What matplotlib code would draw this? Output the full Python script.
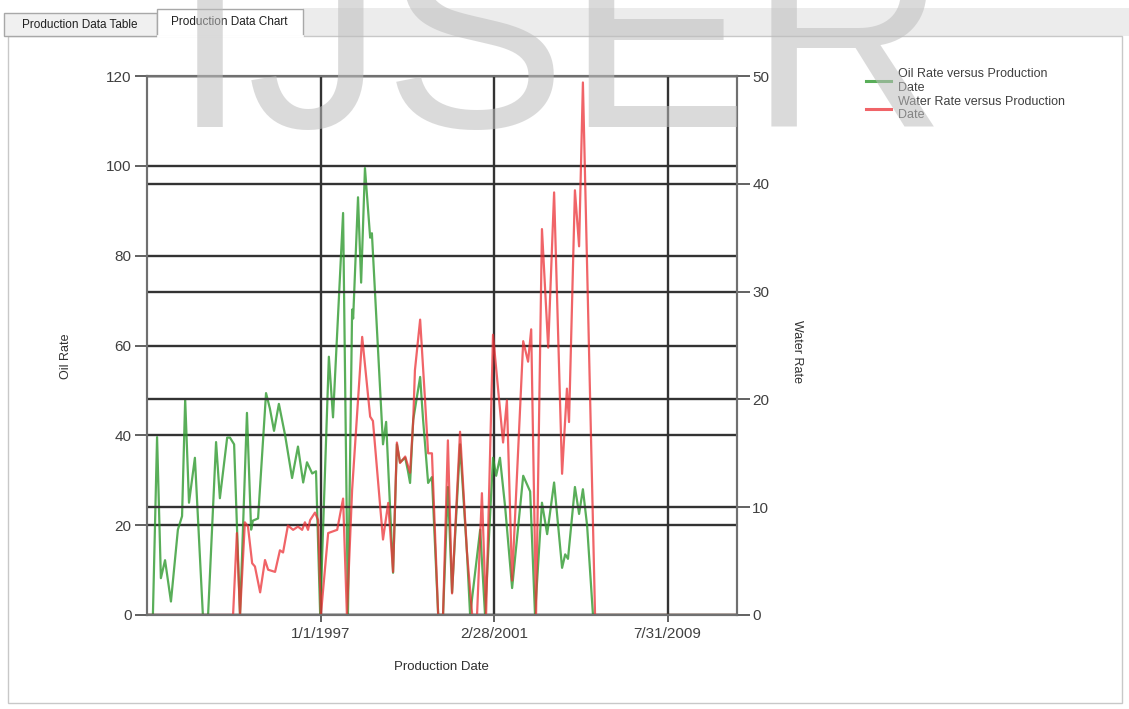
import matplotlib.pyplot as plt
from matplotlib.patches import Rectangle

plt.rcParams['font.family'] = ['Liberation Sans', 'DejaVu Sans']

# point number along the production date axis (category style axis)
date_ticks = [50, 100, 150]
date_labels = ['1/1/1997', '2/28/2001', '7/31/2009']

oil_idx = [0, 1.7, 2.9, 4.0, 5.2, 6.9, 8.9, 10.1, 11.0, 12.1, 13.8, 16.1, 17.6,
           19.9, 21.0, 23.1, 23.9, 25.1, 26.8, 28.8, 30.0, 30.5, 32.0, 34.3,
           35.4, 36.6, 38.0, 39.8, 41.8, 43.5, 45.0, 46.1, 47.6, 48.7, 49.9,
           52.4, 53.6, 56.5, 57.9, 59.1, 59.4, 60.8, 61.7, 62.8, 64.3, 64.8,
           68.0, 68.9, 70.9, 72.0, 72.9, 74.4, 75.2, 75.8, 76.7, 78.7, 79.5,
           81.0, 82.1, 83.9, 85.3, 86.7, 87.9, 90.2, 92.2, 93.1, 96.0, 97.4,
           99.7, 100.6, 101.7, 103.2, 105.2, 108.4, 110.4, 111.8, 113.8, 115.3,
           117.3, 119.6, 120.5, 121.3, 123.3, 124.5, 125.6, 126.8, 128.5, 170]
oil_rate = [0, 0, 39.6, 8.2, 12.2, 3, 19, 22, 48, 25, 35, 0, 0,
            38.5, 26, 39.5, 39.5, 38, 0, 45, 19, 21, 21.5, 49.4,
            46, 41, 47, 40, 30.5, 37.5, 29.5, 34, 31.5, 32, 0,
            57.5, 44, 89.5, 0, 68, 66, 93, 74, 99.5, 84, 85,
            38, 43, 9.4, 38, 34, 35, 32, 29.4, 43.4, 53, 44,
            29.4, 30.7, 0, 0, 28.5, 5, 38, 13.8, 0, 19, 0,
            35, 31, 35, 24, 6, 31, 27.5, 0, 25, 18,
            29.5, 10.5, 13.5, 12.5, 28.5, 22.5, 28, 20, 0, 0]

water_idx = [0, 24.8, 25.9, 26.8, 28.2, 29.1, 30.3, 31.1, 32.6, 34.0, 34.9,
             36.9, 38.3, 39.2, 40.6, 42.1, 43.5, 44.7, 45.5, 46.4, 47.0, 48.4,
             49.3, 50.1, 52.2, 54.8, 56.5, 57.6, 59.1, 62.0, 64.3, 65.1, 68.0,
             69.5, 70.9, 72.0, 72.9, 74.4, 75.8, 76.7, 77.2, 78.7, 80.1, 81.0,
             82.1, 83.9, 85.3, 86.7, 87.9, 90.2, 92.2, 93.7, 95.1, 96.5, 97.7,
             99.7, 102.6, 103.7, 105.2, 108.4, 109.8, 110.7, 112.1, 113.8, 115.6,
             117.3, 119.6, 121.0, 121.6, 123.3, 124.5, 125.6, 129.1, 170]
water_rate = [0, 0, 7.6, 0, 8.6, 8.2, 4.8, 4.5, 2.1, 5.1, 4.2,
              4.0, 6.0, 5.8, 8.3, 7.9, 8.2, 7.9, 8.6, 7.9, 8.8, 9.5,
              8.8, 0, 7.6, 7.9, 10.8, 0, 11.6, 25.8, 18.4, 18, 7,
              10.4, 4, 16, 14.1, 14.7, 13.2, 18, 22.7, 27.4, 20, 15,
              15, 0, 0, 16.2, 2, 17, 5.8, 0, 0, 11.3, 0,
              26, 16, 19.9, 3.2, 25.4, 23.5, 26.5, 0, 35.8, 24.8,
              39.2, 13.1, 21, 17.9, 39.4, 34.2, 49.4, 0, 0]

fig = plt.figure(figsize=(11.29, 7.09), dpi=100)

# window / tab decoration, in pixel units
bg = fig.add_axes([0, 0, 1, 1], zorder=-5)
bg.set_xlim(0, 1129)
bg.set_ylim(709, 0)
bg.axis('off')
bg.add_patch(Rectangle((303, 8), 826, 28, fc='#ececec', ec='none'))
bg.add_patch(Rectangle((8, 36), 1114, 667, fc='white', ec='#c8c8c8', lw=1))
bg.add_patch(Rectangle((4, 13), 153, 23, fc='#f0f0f0', ec='#a8a8a8', lw=1))
bg.add_patch(Rectangle((157, 9), 146, 27, fc='white', ec='#a8a8a8', lw=1))
bg.plot([158, 302], [36, 36], color='white', lw=2)
bg.text(80, 25, 'Production Data Table', ha='center', va='center', fontsize=8.5, color='#202020')
bg.text(229, 22, 'Production Data Chart', ha='center', va='center', fontsize=8.5, color='#202020')

ax = fig.add_axes([147 / 1129, 1 - 615 / 709, 590 / 1129, 539 / 709])
ax2 = ax.twinx()

grid_kw = dict(color='#333333', lw=1.7)
ax.grid(True, **grid_kw)
ax2.grid(True, axis='y', **grid_kw)
ax.set_axisbelow(True)
ax2.set_axisbelow(True)

l1, = ax.plot(oil_idx, oil_rate, color='#2f9a2f', lw=1.6, alpha=0.8)
l2, = ax2.plot(water_idx, water_rate, color='#ec3035', lw=1.6, alpha=0.75)

ax.set_xlim(0, 170)
ax.set_ylim(0, 120)
ax2.set_ylim(0, 50)
ax.set_xticks(date_ticks)
ax.set_xticklabels(date_labels)
ax.set_yticks(range(0, 121, 20))
ax2.set_yticks(range(0, 51, 10))

ax.tick_params(axis='y', direction='out', length=9, width=1.3, color='#555555',
               labelsize=11, labelcolor='#404040', pad=2)
ax2.tick_params(axis='y', direction='out', length=9, width=1.3, color='#555555',
                labelsize=11, labelcolor='#404040', pad=2)
ax.tick_params(axis='x', direction='out', length=5, width=1.3, color='#555555',
               labelsize=11, labelcolor='#404040', pad=4)
for a in (ax, ax2):
    for s in a.spines.values():
        s.set_color('#707070')
        s.set_linewidth(1.5)

fig.text(66 / 1129, 1 - 356 / 709, 'Oil Rate', rotation=90, ha='center', va='center',
         fontsize=9, color='#303030')
fig.text(797 / 1129, 1 - 352 / 709, 'Water Rate', rotation=270, ha='center', va='center',
         fontsize=9, color='#303030')
fig.text(441 / 1129, 1 - 667 / 709, 'Production Date', ha='center', va='center',
         fontsize=9.5, color='#303030')

leg = fig.legend([l1, l2], ['Oil Rate versus Production\nDate', 'Water Rate versus Production\nDate'],
                 loc='upper left', bbox_to_anchor=(866 / 1129, 1 - 68 / 709), frameon=False,
                 fontsize=9, handlelength=2.0, handletextpad=0.55, labelspacing=0.15,
                 borderpad=0, borderaxespad=0, labelcolor='#404040')
for h in leg.legend_handles:
    h.set_linewidth(2.2)

# watermark
fig.text(172 / 1129, 1 - 127 / 709, 'IJSER', fontsize=197, color='#bdbdbd', alpha=0.55,
         zorder=20, va='baseline', ha='left')

fig.savefig('out.png', dpi=100)
